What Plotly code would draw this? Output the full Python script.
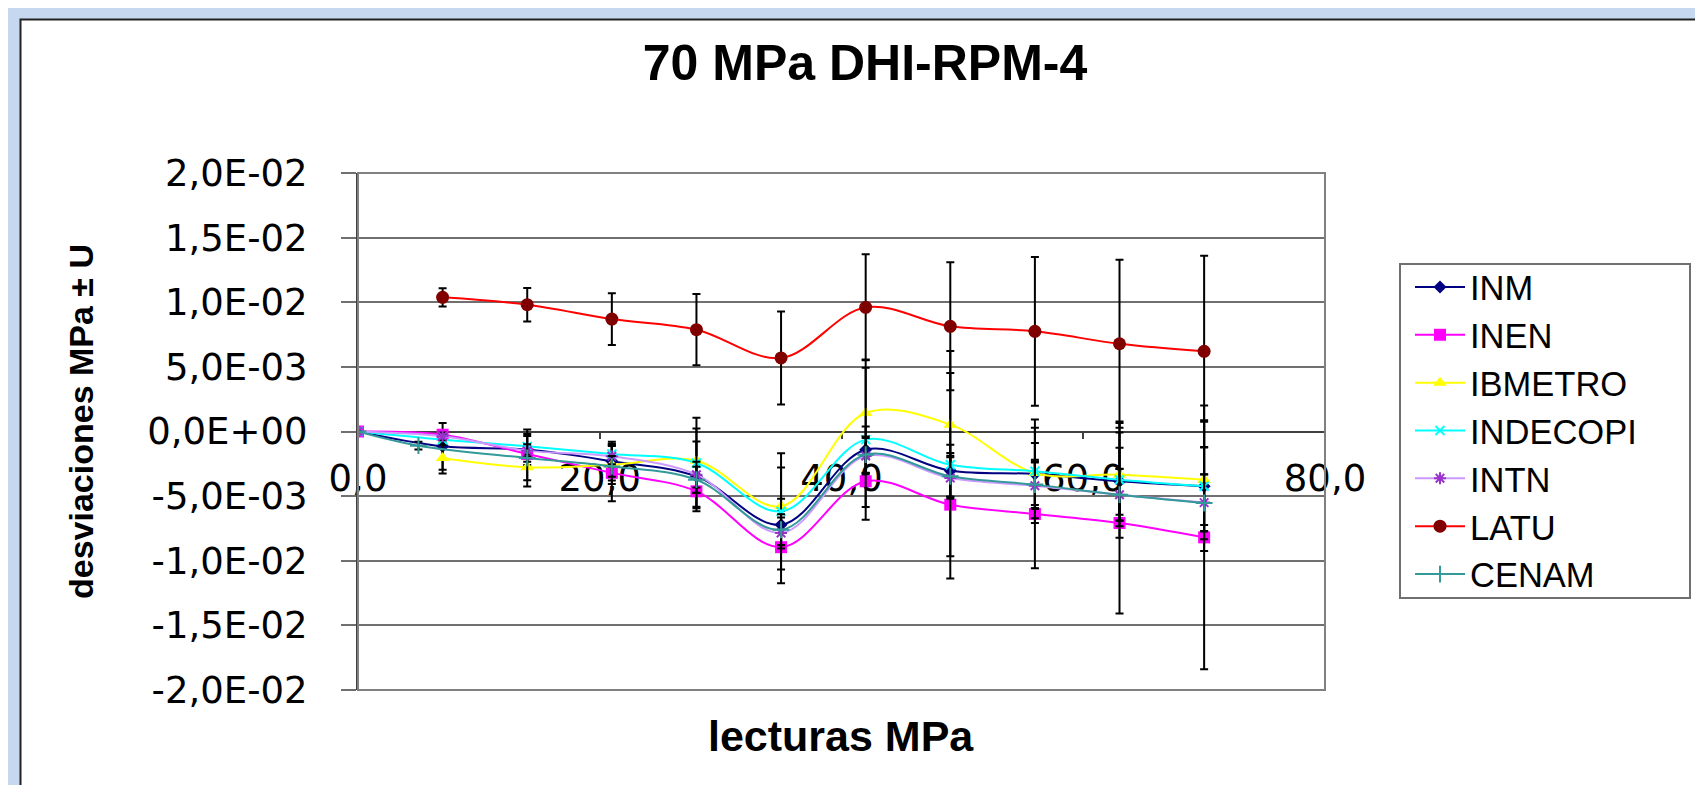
import plotly.graph_objects as go

# ---------------- data (deviations in units of 1e-3 MPa) ----------------
x_main = [0, 7, 14, 21, 28, 35, 42, 49, 56, 63, 70]
x_latu = [7, 14, 21, 28, 35, 42, 49, 56, 63, 70]
x_ibm = [7, 14, 21, 28, 35, 42, 49, 56, 63, 70]
x_cenam = [0, 5, 14, 21, 28, 35, 42, 49, 56, 63, 70]

inm = [0.0, -1.15, -1.4, -2.3, -3.47, -7.21, -1.41, -3.03, -3.29, -3.85, -4.24]
inen = [0.0, -0.25, -1.74, -3.2, -4.63, -8.95, -3.85, -5.66, -6.38, -7.08, -8.19]
ibmetro = [-2.05, -2.77, -2.57, -2.26, -5.79, 1.43, 0.53, -3.21, -3.34, -3.73]
indecopi = [0.0, -0.63, -1.15, -1.74, -2.44, -6.18, -0.63, -2.57, -3.08, -3.73, -4.24]
intn = [0.0, -0.37, -1.48, -1.92, -3.34, -7.85, -1.9, -3.6, -4.2, -4.9, -5.5]
latu = [10.38, 9.81, 8.70, 7.88, 5.69, 9.61, 8.14, 7.75, 6.79, 6.20]
cenam = [0.0, -1.1, -2.05, -2.7, -3.73, -7.6, -1.79, -3.47, -4.11, -4.89, -5.53]

u_latu = [0.7, 1.3, 2.0, 2.75, 3.6, 4.1, 4.95, 5.75, 6.5, 7.4]
u_inm = [0, 1.8, 1.2, 1.5, 2.7, 2.0, 1.8, 2.0, 2.4, 2.6, 3.0]
u_inen = [0, 0.3, 0.6, 2.2, 1.2, 2.8, 2.0, 4.0, 4.2, 7.0, 10.2]
u_ibm = [1.2, 1.0, 1.5, 2.5, 3.0, 3.5, 4.0, 3.5, 4.0, 4.6]
u_indecopi = [0, 0.4, 0.8, 0.8, 3.5, 4.5, 6.2, 8.8, 4.0, 4.5, 5.0]
u_intn = [0, 0.3, 0.5, 0.8, 1.0, 1.2, 1.4, 1.6, 1.8, 2.0, 2.2]
u_cenam = [0, 0.3, 2.2, 0.8, 1.0, 1.2, 1.4, 1.6, 1.8, 2.0, 2.2]

y_tickvals = [20, 15, 10, 5, 0, -5, -10, -15, -20]
y_ticktext = ["2,0E-02", "1,5E-02", "1,0E-02", "5,0E-03", "0,0E+00",
              "-5,0E-03", "-1,0E-02", "-1,5E-02", "-2,0E-02"]
x_tickvals = [0, 20, 40, 60, 80]
x_ticktext = ["0,0", "20,0", "40,0", "60,0", "80,0"]

title = "70 MPa DHI-RPM-4"
x_title = "lecturas MPa"
y_title = "desviaciones MPa ± U"

# ---------------- layout geometry (pixels) ----------------
W, H = 1703, 785
PL, PR, PT, PB = 350, 1317, 165, 682
pw, ph = PR - PL, PB - PT


def px(xp):
    return (xp - PL) / pw


def py(yp):
    return (PB - yp) / ph


FONT = "Liberation Sans, Arial, sans-serif"
TICKFONT = "DejaVu Sans, Liberation Sans, sans-serif"

fig = go.Figure()


def add(name, xs, ys, us, line_color, marker_color, symbol, msize, mline=0):
    fig.add_trace(go.Scatter(
        x=xs, y=ys, name=name, mode="lines+markers",
        line=dict(color=line_color, width=2, shape="spline", smoothing=1.0),
        marker=dict(color=marker_color, symbol=symbol, size=msize,
                    line=dict(color=marker_color, width=mline)),
        error_y=dict(type="data", array=us, visible=True, color="black",
                     thickness=2, width=4),
    ))


add("INM", x_main, inm, u_inm, "#000080", "#000080", "diamond", 10)
add("INEN", x_main, inen, u_inen, "#ff00ff", "#ff00ff", "square", 12)
add("IBMETRO", x_ibm, ibmetro, u_ibm, "#ffff00", "#ffff00", "triangle-up", 12)
add("INDECOPI", x_main, indecopi, u_indecopi, "#00ffff", "#00ffff", "x-thin", 9, 2)
add("INTN", x_main, intn, u_intn, "#cc99ff", "#9933cc", "asterisk", 10, 2)
add("LATU", x_latu, latu, u_latu, "#ff0000", "#800000", "circle", 13)
add("CENAM", x_cenam, cenam, u_cenam, "#339999", "#339999", "cross-thin", 12, 2)

shapes = [
    # white chart panel over blue page
    dict(type="rect", xref="paper", yref="paper", layer="below",
         x0=px(12.5), x1=px(1720), y0=py(800), y1=py(11.5),
         fillcolor="white", line=dict(color="#222222", width=2)),
    # plot area border
    dict(type="rect", xref="paper", yref="paper", layer="above",
         x0=0, x1=1, y0=0, y1=1, line=dict(color="#808080", width=2)),
    # legend frame
    dict(type="rect", xref="paper", yref="paper", layer="above",
         x0=px(1392), x1=px(1682), y0=py(590), y1=py(256),
         fillcolor="white", line=dict(color="#707070", width=2)),
]

annotations = [
    dict(text="<b>%s</b>" % y_title, xref="paper", yref="paper",
         x=px(73), y=py(414), showarrow=False, textangle=-90,
         font=dict(family=FONT, size=34, color="black"),
         xanchor="center", yanchor="middle"),
    dict(text="<b>%s</b>" % x_title, xref="paper", yref="paper",
         x=px(833), y=py(728), showarrow=False,
         font=dict(family=FONT, size=43, color="black"),
         xanchor="center", yanchor="middle"),
]

fig.update_layout(
    width=W, height=H,
    margin=dict(l=PL, r=W - PR, t=PT, b=H - PB, pad=0),
    paper_bgcolor="#c5d8f0",
    plot_bgcolor="#c0c0c0",
    font=dict(family=FONT, color="black"),
    title=dict(text="<b>%s</b>" % title, x=857 / W, y=1 - 54 / H,
               xanchor="center", yanchor="middle",
               font=dict(family=FONT, size=50, color="black")),
    showlegend=True,
    legend=dict(x=px(1402), y=py(250), xanchor="left", yanchor="top",
                bgcolor="rgba(0,0,0,0)", borderwidth=0,
                font=dict(family=FONT, size=34.5, color="black"),
                itemwidth=50, tracegroupgap=0),
    shapes=shapes,
    annotations=annotations,
)

fig.update_xaxes(
    range=[0, 80], tickvals=x_tickvals, ticktext=x_ticktext,
    showgrid=False, zeroline=False,
    anchor="free", position=0.5, side="bottom",
    showline=True, linecolor="#404040", linewidth=2,
    ticks="outside", ticklen=6, tickcolor="#404040", tickwidth=2,
    ticklabelstandoff=8,
    tickfont=dict(family=TICKFONT, size=37, color="black"),
    layer="below traces",
)
fig.update_yaxes(
    range=[-20, 20], tickvals=y_tickvals, ticktext=y_ticktext,
    showgrid=True, gridcolor="#707070", gridwidth=2,
    zeroline=False,
    showline=True, linecolor="#404040", linewidth=2,
    ticks="outside", ticklen=15, tickcolor="#707070", tickwidth=2,
    ticklabelstandoff=26,
    tickfont=dict(family=TICKFONT, size=37, color="black"),
)

fig.write_html("out.html")
